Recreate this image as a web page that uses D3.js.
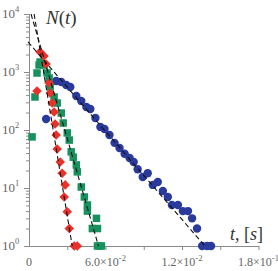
<!DOCTYPE html>
<meta charset="utf-8" />
<script src="https://d3js.org/d3.v7.min.js"></script>
<style>
    body { margin: 0; background: #fff; }
</style>
<div id="chart"></div>
<script>
    // data: [t (s), N]
    const blueData = [
        [0.0134, 155], [0.0213, 700], [0.0253, 672], [0.0292, 597], [0.0324, 551],
        [0.0371, 385], [0.0410, 316], [0.0450, 249], [0.0481, 230], [0.0521, 161],
        [0.0560, 113], [0.0592, 104], [0.0631, 82], [0.0671, 60], [0.0710, 49],
        [0.0750, 39], [0.0789, 33], [0.0821, 28], [0.0852, 21], [0.0892, 15.5],
        [0.0931, 18], [0.0971, 11.3], [0.1010, 12.7], [0.1050, 8.9], [0.1089, 7],
        [0.1121, 5.1], [0.1168, 5.1], [0.1207, 4], [0.1247, 4], [0.1279, 3],
        [0.1318, 2], [0.1358, 1], [0.1397, 1], [0.1428, 1]
    ]
    const greenData = [
        [0.0024, 76], [0.0047, 371], [0.0063, 961], [0.0079, 1320], [0.0087, 1487],
        [0.0118, 1320], [0.0142, 961], [0.0158, 788], [0.0166, 551], [0.0197, 371],
        [0.0221, 292], [0.0253, 196], [0.0268, 132], [0.0300, 89], [0.0316, 67],
        [0.0331, 42], [0.0347, 34], [0.0371, 25], [0.0379, 19], [0.0410, 10.4],
        [0.0434, 7], [0.0458, 5.1], [0.0458, 4], [0.0529, 3], [0.0497, 2],
        [0.0537, 2], [0.0537, 1], [0.0553, 1], [0.0568, 1]
    ]
    const redData = [
        [0.0087, 2213], [0.0118, 1888], [0.0134, 1374], [0.0063, 470], [0.0158, 646],
        [0.0166, 434], [0.0182, 292], [0.0197, 204], [0.0205, 127], [0.0213, 82],
        [0.0221, 47], [0.0245, 28], [0.0260, 18], [0.0284, 11.3], [0.0276, 7],
        [0.0300, 3.9], [0.0316, 2], [0.0355, 1], [0.0379, 1]
    ]
    // dashed exponential fits, end points [t, N]
    const blueFit = [[-0.0008, 3300], [0.138, 1]]
    const greenFit = [[0.0016, 10000], [0.0545, 1]]
    const redFit = [[0.0040, 10000], [0.0339, 1]]

    const xTicks = [0, 0.06, 0.12, 0.18]
    const xTickBase = ['0', '6.0×10', '1.2×10', '1.8×10']
    const xTickExp = ['', '-2', '-2', '-1']
    const xMinorTicks = [0.03, 0.06, 0.09, 0.12, 0.15, 0.18]
    const yTicks = [1, 10, 100, 1000, 10000]
    const yTickExp = ['0', '1', '2', '3', '4']

    const width = 278, height = 271
    const serif = "'Liberation Serif', 'Times New Roman', serif"
    const x = d3.scaleLinear().domain([0, 0.18]).range([29, 258.5])
    const y = d3.scaleLog().domain([1, 10000]).range([246, 14])

    const svg = d3.select('#chart').append('svg')
        .attr('width', width).attr('height', height)

    // minor log ticks on the y axis
    const yMinor = []
    for (let d = 1; d < 10000; d *= 10)
        for (let k = 2; k <= 9; k++) yMinor.push(d * k)

    const axisCol = '#8a8a8a'
    svg.append('g')
        .attr('transform', `translate(${x(0)},0)`)
        .call(d3.axisLeft(y).tickValues(yMinor).tickFormat('').tickSize(3).tickSizeOuter(0))
        .call(g => g.selectAll('line').attr('stroke', axisCol))
        .call(g => g.select('.domain').attr('stroke', axisCol))
    svg.append('g')
        .attr('transform', `translate(${x(0)},0)`)
        .call(d3.axisLeft(y).tickValues(yTicks).tickFormat('').tickSize(5).tickSizeOuter(0))
        .call(g => g.selectAll('line').attr('stroke', axisCol))
        .call(g => g.select('.domain').attr('stroke', axisCol))

    svg.append('g')
        .attr('transform', `translate(0,${y(1)})`)
        .call(d3.axisBottom(x).tickValues(xMinorTicks).tickFormat('').tickSize(4).tickSizeOuter(0))
        .call(g => g.selectAll('line').attr('stroke', axisCol))
        .call(g => g.select('.domain').attr('stroke', axisCol))

    // y labels 10^n
    yTicks.forEach((v, i) => {
        const t = svg.append('text')
            .attr('x', 2).attr('y', y(v) + 4)
            .attr('font-family', serif).attr('fill', '#666')
            .attr('font-size', 13)
        t.append('tspan').text('10')
        t.append('tspan').attr('dy', -6).attr('font-size', 8.5).text(yTickExp[i])
    })

    // x labels
    xTicks.forEach((v, i) => {
        const t = svg.append('text')
            .attr('x', x(v)).attr('y', 266)
            .attr('text-anchor', 'middle')
            .attr('font-family', serif).attr('fill', '#666')
            .attr('font-size', 12)
        t.append('tspan').text(xTickBase[i])
        if (xTickExp[i]) t.append('tspan').attr('dy', -5).attr('font-size', 8.5).text(xTickExp[i])
    })

    // blue circles
    svg.append('g').selectAll('circle')
        .data(blueData).join('circle')
        .attr('cx', d => x(d[0])).attr('cy', d => y(d[1]))
        .attr('r', 4.2).attr('fill', '#2a3a9c')

    // green squares
    const s = 7.5
    svg.append('g').selectAll('rect')
        .data(greenData).join('rect')
        .attr('x', d => x(d[0]) - s / 2).attr('y', d => y(d[1]) - s / 2)
        .attr('width', s).attr('height', s).attr('fill', '#17925f')

    // red diamonds
    svg.append('g').selectAll('path')
        .data(redData).join('path')
        .attr('transform', d => `translate(${x(d[0])},${y(d[1])}) rotate(45)`)
        .attr('d', 'M-3.4,-3.4H3.4V3.4H-3.4Z')
        .attr('fill', '#e8322a')

    // dashed fit lines
    const line = d3.line().x(d => x(d[0])).y(d => y(d[1]))
    ;[blueFit, greenFit, redFit].forEach(f => {
        svg.append('path').datum(f)
            .attr('d', line)
            .attr('fill', 'none')
            .attr('stroke', '#111')
            .attr('stroke-width', 1.1)
            .attr('stroke-dasharray', '5,3')
    })

    // axis titles
    const nt = svg.append('text').attr('x', 46).attr('y', 24)
        .attr('font-family', serif).attr('font-size', 19).attr('fill', '#333')
    nt.append('tspan').attr('font-style', 'italic').text('N')
    nt.append('tspan').text('(')
    nt.append('tspan').attr('font-style', 'italic').text('t')
    nt.append('tspan').text(')')

    const tt = svg.append('text').attr('x', 230).attr('y', 240)
        .attr('font-family', serif).attr('font-size', 18).attr('fill', '#333')
    tt.append('tspan').attr('font-style', 'italic').text('t')
    tt.append('tspan').text(', [')
    tt.append('tspan').attr('font-style', 'italic').text('s')
    tt.append('tspan').text(']')
</script>
